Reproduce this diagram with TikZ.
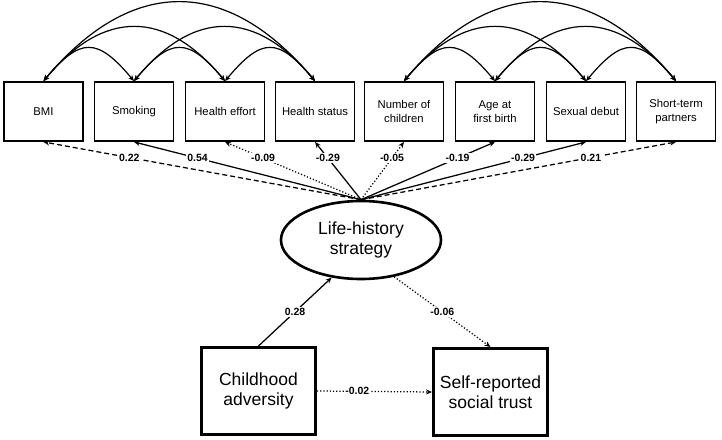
\documentclass[tikz,border=0pt]{standalone}
\usepackage{fontspec}
\setmainfont{Liberation Sans}
\usetikzlibrary{arrows.meta,shapes.geometric}
\begin{document}
\begin{tikzpicture}[x=1pt,y=-1pt,
  obs/.style={draw,line width=1.9pt,minimum width=79pt,minimum height=59pt,inner sep=1pt,align=center,font=\fontsize{11.3}{13.5}\selectfont},
  big/.style={draw,line width=3pt,minimum width=114pt,minimum height=87pt,inner sep=1pt,align=center,font=\fontsize{17.5}{20.5}\selectfont},
  lat/.style={draw,ellipse,line width=2.6pt,minimum width=160pt,minimum height=78pt,inner sep=0pt,align=center,font=\fontsize{17.5}{20.5}\selectfont},
  tip/.style={-{Stealth[length=6pt,width=5pt]}},
  arc/.style={{Stealth[length=6pt,width=5pt]}-{Stealth[length=6pt,width=5pt]},line width=1.2pt},
  pth/.style={tip,line width=1.25pt},
  dsh/.style={dash pattern=on 5pt off 3pt},
  dot/.style={dash pattern=on 1.2pt off 2pt},
  lab/.style={fill=white,inner sep=1.5pt,font=\bfseries\fontsize{10.5}{12}\selectfont}
]
\path[fill=white] (0,0) rectangle (722,439);
\useasboundingbox (0,0) rectangle (722,439);

% observed indicators
\node[obs] (bmi) at (43.5,111.5) {BMI};
\node[obs] (smk) at (134,111.5) {Smoking};
\node[obs] (heff) at (225,111.5) {Health effort};
\node[obs] (hst) at (315,111.5) {Health status};
\node[obs] (noc) at (404,111.5) {Number of\\children};
\node[obs] (afb) at (495,111.5) {Age at\\first birth};
\node[obs] (sxd) at (586,111.5) {Sexual debut};
\node[obs] (stp) at (676,111.5) {Short-term\\partners};

% latent and outcome
\node[lat] (lhs) at (361,240) {Life-history\\strategy};
\node[big] (chi) at (258.5,391) {Childhood\\adversity};
\node[big] (srt) at (490.5,392) {Self-reported\\social trust};

\coordinate (top) at (lhs.north);

% covariance arcs: health group
\draw[arc] (bmi.north) .. controls +(37,-44) and +(-37,-44) .. (smk.north);
\draw[arc] (smk.north) .. controls +(37,-44) and +(-37,-44) .. (heff.north);
\draw[arc] (heff.north) .. controls +(37,-44) and +(-37,-44) .. (hst.north);
\draw[arc] (bmi.north) .. controls +(60,-72) and +(-60,-72) .. (heff.north);
\draw[arc] (smk.north) .. controls +(60,-72) and +(-60,-72) .. (hst.north);
\draw[arc] (bmi.north) .. controls +(88,-105) and +(-88,-105) .. (hst.north);
% covariance arcs: reproductive group
\draw[arc] (noc.north) .. controls +(37,-44) and +(-37,-44) .. (afb.north);
\draw[arc] (afb.north) .. controls +(37,-44) and +(-37,-44) .. (sxd.north);
\draw[arc] (sxd.north) .. controls +(37,-44) and +(-37,-44) .. (stp.north);
\draw[arc] (noc.north) .. controls +(60,-72) and +(-60,-72) .. (sxd.north);
\draw[arc] (afb.north) .. controls +(60,-72) and +(-60,-72) .. (stp.north);
\draw[arc] (noc.north) .. controls +(88,-105) and +(-88,-105) .. (stp.north);

% loadings
\draw[pth,dsh] (top) -- node[lab,pos=0.73]{0.22} (bmi.south);
\draw[pth] (top) -- node[lab,pos=0.72]{0.54} (smk.south);
\draw[pth,dot] (top) -- node[lab,pos=0.72]{-0.09} (heff.south);
\draw[pth] (top) -- node[lab,pos=0.72]{-0.29} (hst.south);
\draw[pth,dot] (top) -- node[lab,pos=0.72]{-0.05} (noc.south);
\draw[pth] (top) -- node[lab,pos=0.72]{-0.19} (afb.south);
\draw[pth] (top) -- node[lab,pos=0.72]{-0.29} (sxd.south);
\draw[pth,dsh] (top) -- node[lab,pos=0.73]{0.21} (stp.south);

% structural paths
\draw[pth] (chi.north) -- node[lab,pos=0.5]{0.28} (lhs.232);
\draw[pth,dot] (lhs.-48) -- node[lab,pos=0.5]{-0.06} (srt.north);
\draw[pth,dot] (chi.east) -- node[lab,pos=0.35]{-0.02} (srt.west);
\end{tikzpicture}
\end{document}
